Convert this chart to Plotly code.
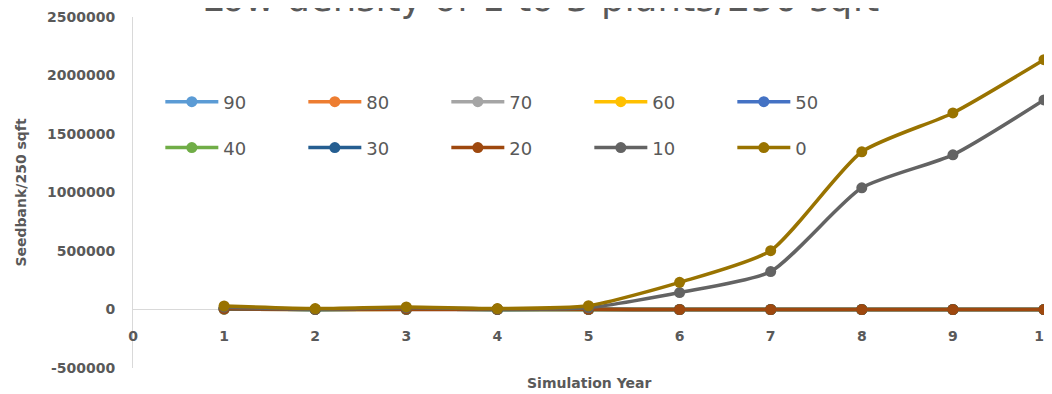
import plotly.graph_objects as go

years = [1, 2, 3, 4, 5, 6, 7, 8, 9, 10]
series_names = ["90", "80", "70", "60", "50", "40", "30", "20", "10", "0"]
colors = ["#5B9BD5", "#ED7D31", "#A5A5A5", "#FFC000", "#4472C4",
          "#70AD47", "#255E91", "#9E480E", "#636363", "#997300"]

s90 = [3000, 500, 1000, 500, 500, 0, 0, 0, 0, 0]
s80 = [3000, 500, 1000, 500, 500, 0, 0, 0, 0, 0]
s70 = [4000, 800, 1500, 800, 800, 0, 0, 0, 0, 0]
s60 = [4000, 800, 1500, 800, 800, 0, 0, 0, 0, 0]
s50 = [5000, 1000, 2000, 1000, 1000, 0, 0, 0, 0, 0]
s40 = [5000, 1000, 2000, 1000, 1000, 0, 0, 0, 0, 0]
s30 = [6000, 1000, 2500, 1000, 1200, 0, 0, 0, 0, 0]
s20 = [6000, 1500, 3000, 1500, 1500, 0, 0, 0, 0, 0]
s10 = [20000, 3000, 15000, 5000, 15000, 145000, 324000, 1040000, 1322000, 1791000]
s0 = [30000, 8000, 22000, 8000, 32000, 232000, 503000, 1348000, 1680000, 2135000]
values = [s90, s80, s70, s60, s50, s40, s30, s20, s10, s0]

y_ticks = [-500000, 0, 500000, 1000000, 1500000, 2000000, 2500000]
y_tick_labels = ["-500000", "0", "500000", "1000000", "1500000", "2000000", "2500000"]
x_ticks = [0, 1, 2, 3, 4, 5, 6, 7, 8, 9, 10]

grey = "#595959"
fig = go.Figure()
for i, (name, col, vals) in enumerate(zip(series_names, colors, values)):
    fig.add_trace(go.Scatter(
        x=years, y=vals, name=name, mode="lines+markers",
        line=dict(color=col, width=3.5, shape="spline", smoothing=0.6),
        marker=dict(color=col, size=11),
        legend="legend" if i < 5 else "legend2",
        cliponaxis=False,
    ))

leg_common = dict(orientation="h", xanchor="left", yanchor="middle",
                  bgcolor="rgba(0,0,0,0)", entrywidth=75, itemwidth=53,
                  font=dict(family="DejaVu Sans", size=18, color=grey),
                  traceorder="normal")
fig.update_layout(
    width=1052, height=386,
    margin=dict(l=125, r=16, t=9, b=26, autoexpand=False),
    plot_bgcolor="white", paper_bgcolor="white",
    showlegend=True,
    legend=dict(x=0.03, y=0.758, **leg_common),
    legend2=dict(x=0.03, y=0.627, **leg_common),
    xaxis=dict(range=[0, 10], tickvals=x_ticks, ticktext=[str(v) for v in x_ticks],
               showgrid=False, zeroline=False, showline=False, ticks="",
               anchor="free", position=0.12, automargin=False,
               ticklabeloverflow="allow",
               tickfont=dict(family="DejaVu Sans", size=14, color=grey, weight="bold")),
    yaxis=dict(range=[-500000, 2500000], tickvals=y_ticks, ticktext=y_tick_labels,
               showgrid=False, zeroline=True, zerolinecolor="#D9D9D9", zerolinewidth=1,
               showline=True, linecolor="#D9D9D9", linewidth=1, ticks="",
               ticklabelstandoff=14, automargin=False, ticklabeloverflow="allow",
               tickfont=dict(family="DejaVu Sans", size=14, color=grey, weight="bold")),
    annotations=[
        dict(text="Low density of 1 to 3 plants/250 sqft", xref="paper", yref="paper",
             x=0.447, y=0.986, xanchor="center", yanchor="bottom", showarrow=False,
             font=dict(family="DejaVu Sans", size=37, color=grey)),
        dict(text="Seedbank/250 sqft", xref="paper", yref="paper",
             x=-0.124, y=0.5, xanchor="center", yanchor="middle", textangle=-90,
             showarrow=False,
             font=dict(family="DejaVu Sans", size=14, color=grey, weight="bold")),
        dict(text="Simulation Year", xref="paper", yref="paper",
             x=0.5, y=-0.044, xanchor="center", yanchor="middle", showarrow=False,
             font=dict(family="DejaVu Sans", size=14, color=grey, weight="bold")),
    ],
)
fig.write_html("out.html")
